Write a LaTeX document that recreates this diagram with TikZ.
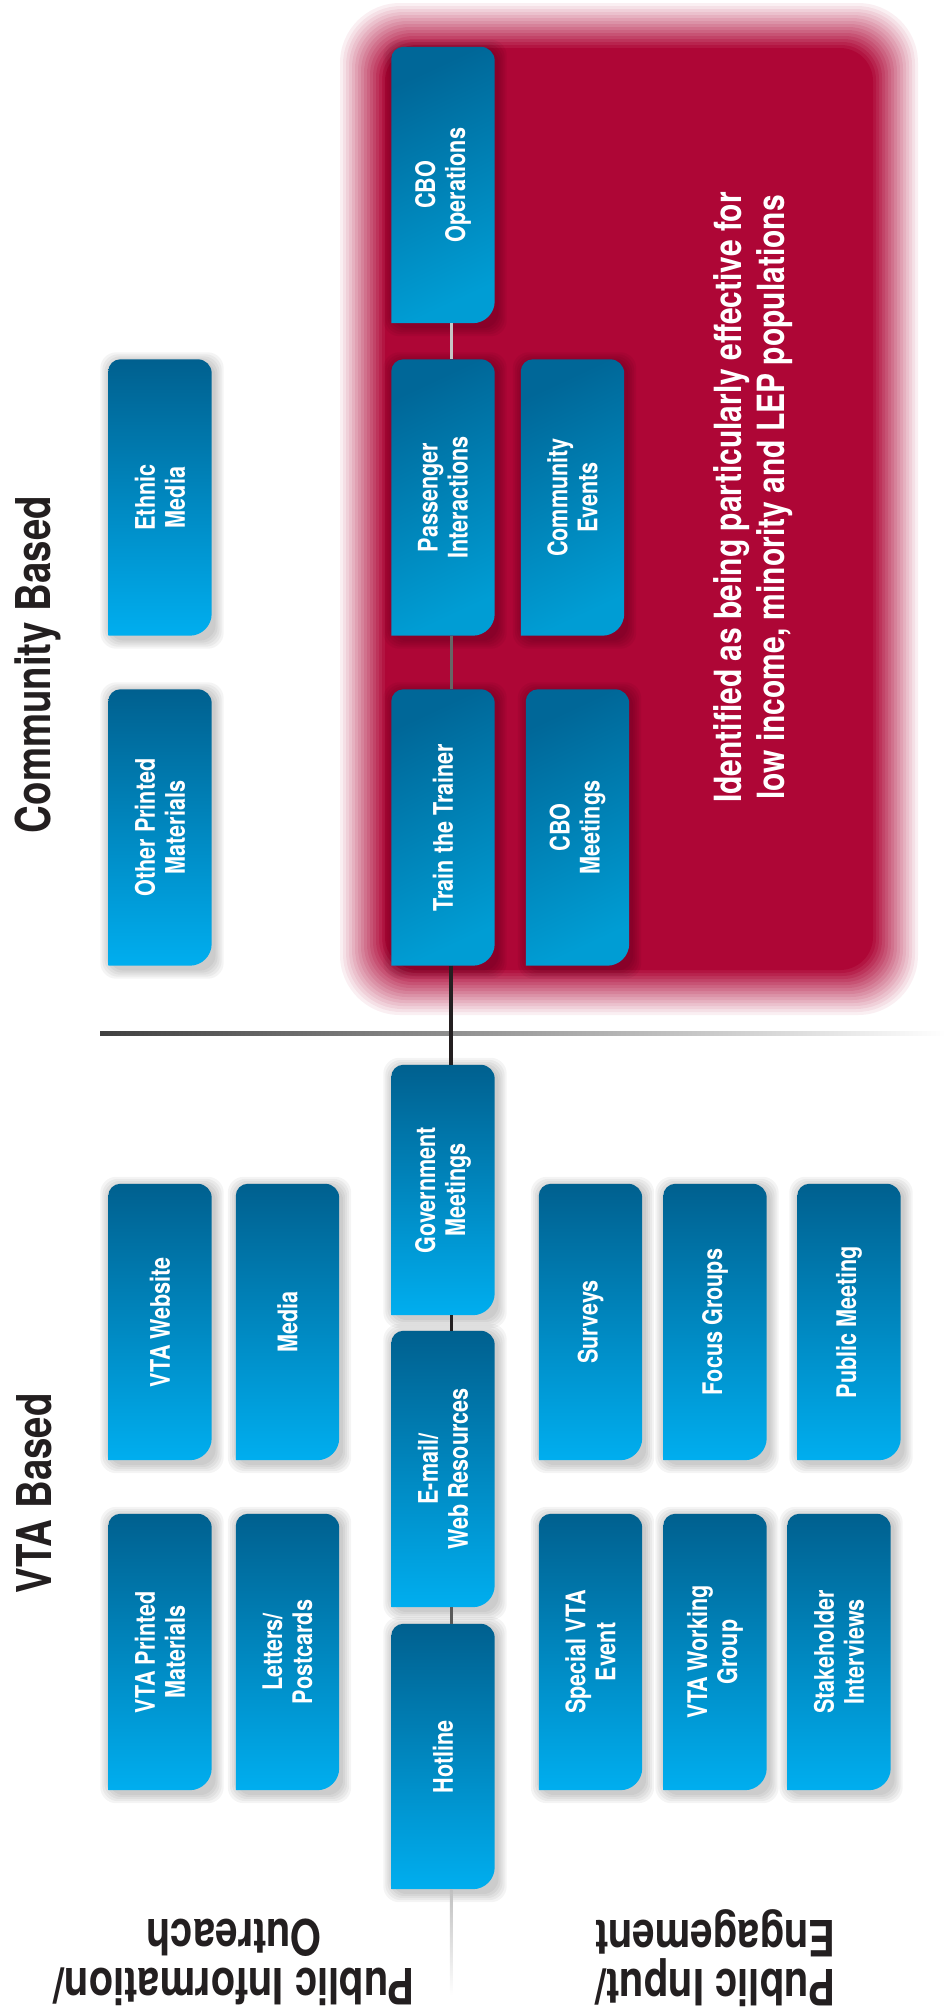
\documentclass[tikz,border=0pt]{standalone}
\usepackage{fontspec}
\newfontfamily\heros{TeX Gyre Heros}[FakeStretch=0.8]
\usetikzlibrary{positioning}

\definecolor{crimson}{RGB}{174,6,54}
\definecolor{ink}{RGB}{35,31,32}
\definecolor{cardtop}{RGB}{0,96,143}
\definecolor{cardbot}{RGB}{0,174,239}
\definecolor{redtop}{RGB}{0,103,152}
\definecolor{redbot}{RGB}{0,157,212}

\pgfdeclarelayer{back}
\pgfdeclarelayer{cards}
\pgfsetlayers{back,cards,main}

\begin{document}
\begin{tikzpicture}[x=1pt, y=1pt, on grid, every node/.style={inner sep=0pt},
    card/.style={rotate=90, minimum width=276pt, minimum height=103pt, align=center, text=white, font=\heros\bfseries\fontsize{27}{30}\selectfont},
    bluefill/.style={top color=cardtop, bottom color=cardbot},
    redfill/.style={top color=redtop, bottom color=redbot, shading angle=25},
    heading/.style={text=ink, font=\heros\bfseries\fontsize{48}{49}\selectfont},
    spine/.style={line width=3pt}]

    \useasboundingbox (0,0) rectangle (946,-2013);

    % Highlighted area (soft edge, linear ramp)
    \begin{pgfonlayer}{back}
        \foreach \i [evaluate=\i as \op using 1/(16-\i)] in {0,...,15}
            \fill[crimson, opacity=\op, rounded corners=60-1.8*\i] (340+3*\i,-3-3*\i) rectangle (918-3*\i,-1015+3*\i);
    \end{pgfonlayer}

    % Community based cards
    \node[card] (pass) at (443,-497.5) {Passenger\\Interactions};
    \node[above=312.5pt of pass, card] (cbo) {CBO\\Operations};
    \node[below=330pt of pass, card] (train) {Train the Trainer};
    \node[left=283pt of pass, card] (ethnic) {Ethnic\\Media};
    \node[right=129.5pt of pass, card] (cevents) {Community\\Events};
    \node[below=330pt of ethnic, card] (otherprint) {Other Printed\\Materials};
    \node[right=134.5pt of train, card] (cbomeet) {CBO\\Meetings};

    % VTA based cards
    \node[below=362.5pt of train, card, minimum width=250pt] (gov) {Government\\Meetings};
    \node[below=279pt of gov, card] (email) {E-mail/\\Web Resources};
    \node[below=287.5pt of email, card, minimum width=265pt] (hotline) {Hotline};
    \node[below=494.5pt of otherprint, card] (website) {VTA Website};
    \node[right=127.5pt of website, card] (media) {Media};
    \node[below=330pt of website, card] (printed) {VTA Printed\\Materials};
    \node[below=330pt of media, card] (letters) {Letters/\\Postcards};
    \node[right=303pt of media, card] (surveys) {Surveys};
    \node[right=124.5pt of surveys, card] (focus) {Focus Groups};
    \node[right=134pt of focus, card] (pubmeet) {Public Meeting};
    \node[below=330pt of surveys, card] (special) {Special VTA\\Event};
    \node[below=330pt of focus, card] (working) {VTA Working\\Group};
    \node[right=124pt of working, card] (stake) {Stakeholder\\Interviews};

    % Card shapes with shadows
    \begin{pgfonlayer}{cards}
        \foreach \n/\sh in {cbo/redfill, pass/redfill, cevents/redfill, train/redfill, cbomeet/redfill,
                ethnic/bluefill, otherprint/bluefill, gov/bluefill, email/bluefill, hotline/bluefill,
                website/bluefill, media/bluefill, printed/bluefill, letters/bluefill, surveys/bluefill,
                focus/bluefill, pubmeet/bluefill, special/bluefill, working/bluefill, stake/bluefill} {
            \foreach \s in {2,4,...,10}
                \fill[black, opacity=0.045, rounded corners=16] ([shift={(2-\s,-3-\s)}]\n.north west) rectangle ([shift={(2+\s,-3+\s)}]\n.south east);
            \shade[\sh] (\n.north west) -- ([xshift=-22pt]\n.south west) arc[start angle=-90, end angle=0, radius=22pt]
                -- ([yshift=-14pt]\n.south east) arc[start angle=0, end angle=90, radius=14pt]
                -- ([xshift=12pt]\n.north east) arc[start angle=90, end angle=180, radius=12pt] -- cycle;
        }
    \end{pgfonlayer}

    % Divider
    \shade[left color=black!75, middle color=black!92, right color=white] (100,-1031) rectangle (946,-1035);

    % Spine
    \coordinate (sp) at (451,0);
    \coordinate (tail) at (451,-1995);
    \draw[spine, gray!45] (cbo.west -| sp) -- (pass.east -| sp);
    \draw[spine, black!60] (pass.west -| sp) -- (train.east -| sp);
    \draw[spine, ink, line width=4pt] (train.west -| sp) -- (gov.east -| sp);
    \draw[spine, ink] (gov.west -| sp) -- (email.east -| sp);
    \draw[spine, black!65] (email.west -| sp) -- (hotline.east -| sp);
    \shade[top color=gray!50, bottom color=white] ([xshift=-1.25pt]hotline.west -| sp) rectangle ([xshift=1.25pt]tail);

    % Texts
    \node[rotate=90, align=center, text=white, font=\heros\bfseries\fontsize{37.5}{43}\selectfont] (note) at (753,-497.5) {Identified as being particularly effective for\\low income, minority and LEP populations};
    \node[heading, rotate=90, anchor=base] (cbtitle) at (50,-664.5) {Community Based};
    \node[heading, rotate=90, anchor=base] (vtatitle) at (51,-1493.5) {VTA Based};
    \node[heading, rotate=180, align=center, font=\heros\bfseries\fontsize{50}{49}\selectfont] (outreach) at (234,-1962) {Public Information/\\Outreach};
    \node[heading, rotate=180, align=center, font=\heros\bfseries\fontsize{50}{49}\selectfont] (engage) at (715,-1958) {Public Input/\\Engagement};

\end{tikzpicture}
\end{document}
